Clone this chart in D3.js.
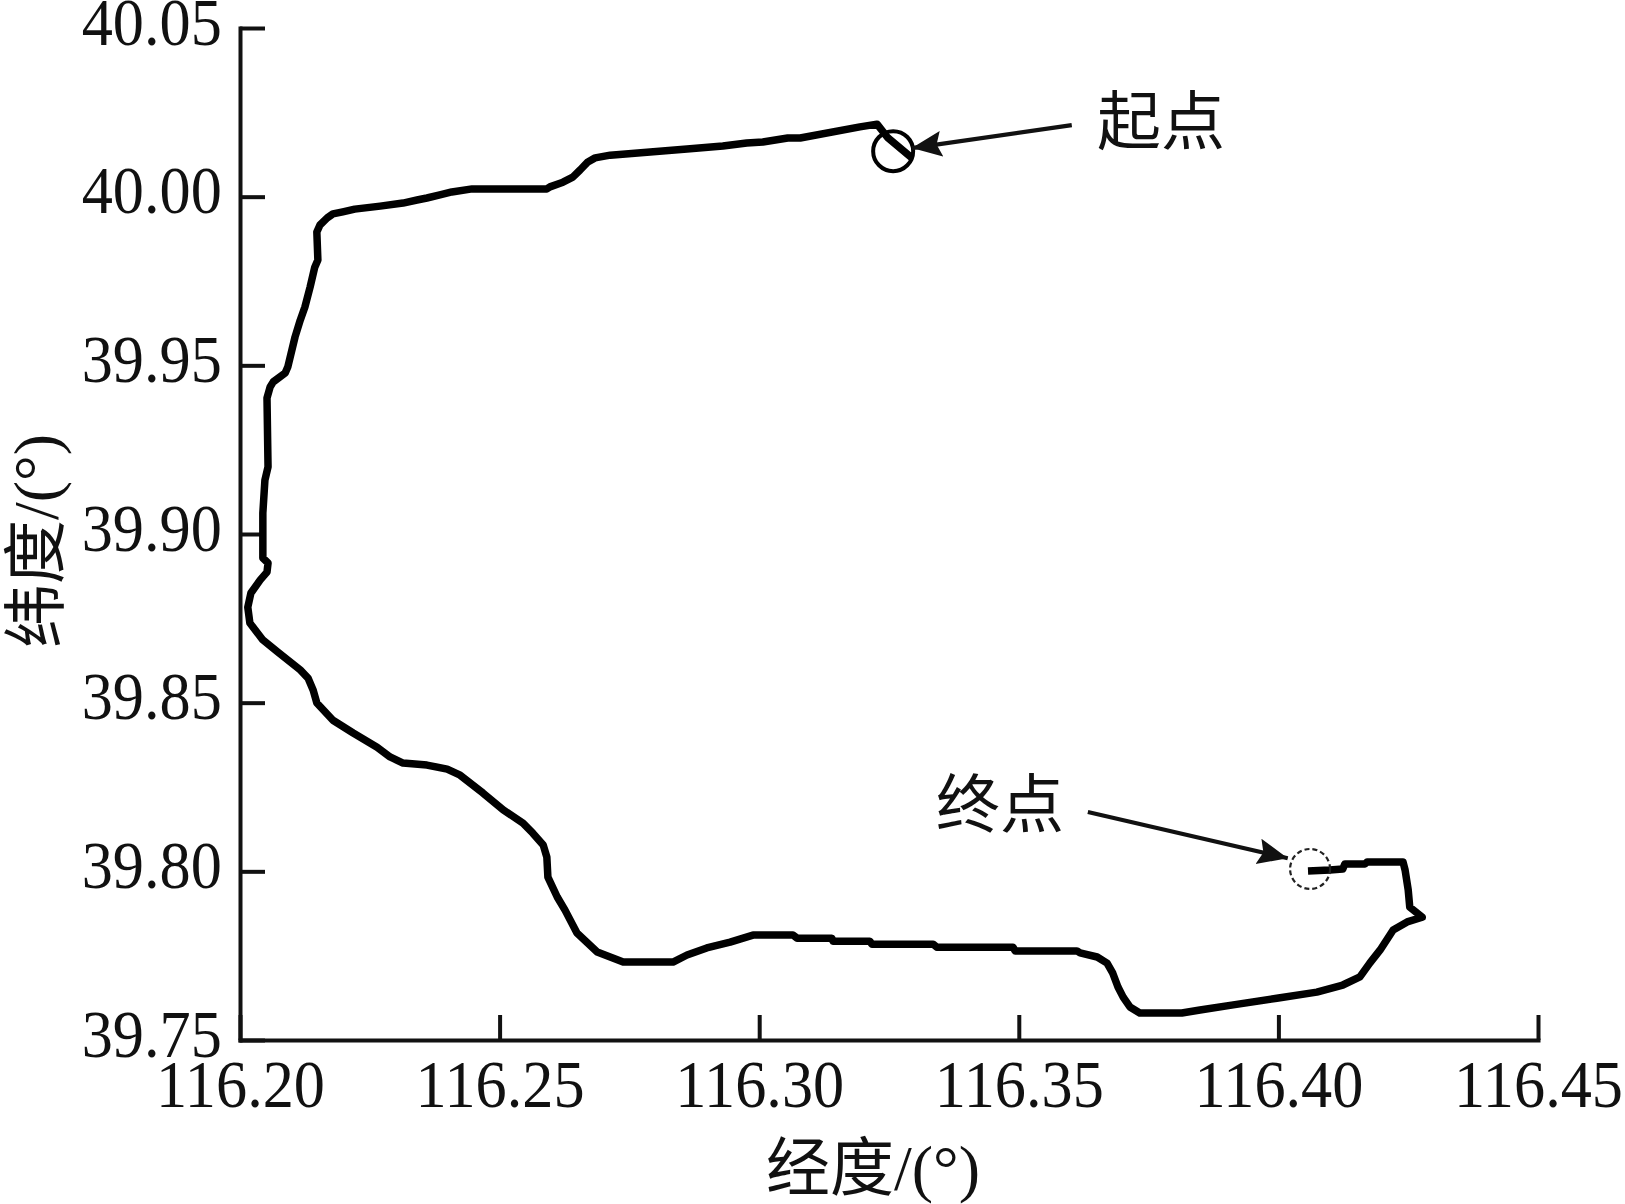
<!DOCTYPE html>
<html><head><meta charset="utf-8">
<script src="https://cdn.jsdelivr.net/npm/d3@7"></script>
<style>body{margin:0;background:#fff}</style>
</head><body>
<svg id="c" width="1625" height="1204"></svg>
<script>
const xTicks = [116.20, 116.25, 116.30, 116.35, 116.40, 116.45];
const yTicks = [39.75, 39.80, 39.85, 39.90, 39.95, 40.00, 40.05];
const xTitle = "经度/(°)";
const yTitle = "纬度/(°)";

const pathLon = [116.3294,116.3248,116.3227,116.3194,116.3079,116.3055,116.3007,116.2976,116.2930,116.2861,
116.2784,116.2713,116.2684,116.2670,116.2655,116.2641,116.2622,116.2597,116.2591,116.2447,
116.2408,116.2385,116.2360,116.2341,116.2314,116.2270,116.2221,116.2198,116.2179,116.2168,
116.2154,116.2148,116.2150,116.2144,116.2135,116.2125,116.2116,116.2106,116.2092,116.2087,
116.2064,116.2058,116.2052,116.2054,116.2048,116.2044,116.2044,116.2054,116.2052,116.2039,
116.2021,116.2015,116.2019,116.2044,116.2073,116.2116,116.2131,116.2141,116.2148,116.2179,
116.2218,116.2264,116.2289,116.2314,116.2360,116.2399,116.2424,116.2468,116.2507,116.2545,
116.2564,116.2584,116.2591,116.2593,116.2611,116.2626,116.2649,116.2688,116.2718,116.2738,
116.2834,116.2861,116.2899,116.2944,116.2988,116.3065,116.3073,116.3140,116.3142,116.3213,
116.3217,116.3335,116.3342,116.3489,116.3493,116.3612,116.3618,116.3651,116.3670,116.3681,
116.3691,116.3701,116.3714,116.3733,116.3814,116.3849,116.3913,116.3997,116.4074,116.4124,
116.4157,116.4176,116.4196,116.4221,116.4248,116.4277,116.4253,116.4250,116.4244,116.4240,
116.4171,116.4167,116.4128,116.4124,116.4099,116.4057];
const pathLat = [40.0115,40.0174,40.0215,40.0207,40.0174,40.0174,40.0162,40.0159,40.0150,40.0141,
40.0132,40.0123,40.0115,40.0103,40.0079,40.0058,40.0043,40.0029,40.0023,40.0023,
40.0014,40.0005,39.9996,39.9990,39.9981,39.9972,39.9963,39.9955,39.9949,39.9937,
39.9916,39.9895,39.9812,39.9791,39.9732,39.9673,39.9634,39.9584,39.9495,39.9477,
39.9451,39.9436,39.9403,39.9199,39.9160,39.9062,39.8929,39.8914,39.8887,39.8864,
39.8825,39.8783,39.8736,39.8686,39.8650,39.8597,39.8573,39.8537,39.8499,39.8448,
39.8410,39.8368,39.8339,39.8321,39.8315,39.8303,39.8285,39.8232,39.8182,39.8143,
39.8113,39.8078,39.8042,39.7983,39.7924,39.7885,39.7817,39.7761,39.7743,39.7731,
39.7731,39.7752,39.7773,39.7790,39.7811,39.7811,39.7802,39.7802,39.7793,39.7793,
39.7784,39.7784,39.7775,39.7775,39.7764,39.7764,39.7758,39.7746,39.7728,39.7698,
39.7657,39.7627,39.7598,39.7580,39.7580,39.7589,39.7604,39.7624,39.7642,39.7663,
39.7687,39.7728,39.7767,39.7826,39.7850,39.7864,39.7894,39.7945,39.8004,39.8028,
39.8028,39.8022,39.8022,39.8007,39.8004,39.8001];

const markerNames = ["起点", "终点"];
const markerLon = [116.3258, 116.4061];
const markerLat = [40.0135, 39.8007];
const labelLon = [116.3774, 116.3464];
const labelLat = [40.0221, 39.8196];
const arrowFromLon = [116.3602, 116.3633];
const arrowFromLat = [40.0212, 39.8176];
const arrowToLon = [116.3294, 116.4018];
const arrowToLat = [40.0144, 39.8039];

const svg = d3.select("#c");
const x = d3.scaleLinear().domain([116.20, 116.45]).range([240, 1538]);
const y = d3.scaleLinear().domain([39.75, 40.05]).range([1040, 28]);

const serif = "'Liberation Serif','Times New Roman','Noto Sans CJK SC',serif";
const cjk = "'Liberation Serif','Noto Sans CJK SC',serif";

// axes
const gx = svg.append("g").attr("transform", `translate(0,${y(39.75)})`)
  .call(d3.axisBottom(x).tickValues(xTicks).tickSizeInner(-25).tickSizeOuter(0).tickFormat(d3.format(".2f")));
const gy = svg.append("g").attr("transform", `translate(${x(116.20)},0)`)
  .call(d3.axisLeft(y).tickValues(yTicks).tickSizeInner(-25).tickSizeOuter(0).tickFormat(d3.format(".2f")));

[gx, gy].forEach(g => {
  g.select(".domain").attr("stroke", "#111").attr("stroke-width", 4).attr("stroke-linecap", "square");
  g.selectAll(".tick line").attr("stroke", "#111").attr("stroke-width", 4);
  g.selectAll(".tick text").attr("font-family", serif).attr("font-size", 67).attr("fill", "#111");
});
gx.selectAll(".tick text").attr("y", 67).attr("dy", 0).attr("transform", "scale(0.93,1)");
gy.selectAll(".tick text").attr("x", -19.5).attr("dy", "0.24em").attr("transform", "scale(0.93,1)");

// axis titles
svg.append("text").attr("x", 873).attr("y", 1190).attr("text-anchor", "middle")
  .attr("font-family", cjk).attr("font-size", 64).attr("fill", "#111").text(xTitle);
svg.append("text").attr("transform", `translate(58,541) rotate(-90)`).attr("text-anchor", "middle")
  .attr("font-family", cjk).attr("font-size", 64).attr("fill", "#111").text(yTitle);

// trajectory
const pts = pathLon.map((d, i) => [d, pathLat[i]]);
svg.append("path").datum(pts)
  .attr("d", d3.line().x(d => x(d[0])).y(d => y(d[1])))
  .attr("fill", "none").attr("stroke", "#000").attr("stroke-width", 7.5)
  .attr("stroke-linejoin", "round").attr("stroke-linecap", "butt");

// start/end circles
svg.append("circle").attr("cx", x(markerLon[0])).attr("cy", y(markerLat[0])).attr("r", 20)
  .attr("fill", "none").attr("stroke", "#000").attr("stroke-width", 4);
svg.append("circle").attr("cx", x(markerLon[1])).attr("cy", y(markerLat[1])).attr("r", 20)
  .attr("fill", "none").attr("stroke", "#222").attr("stroke-width", 2.2).attr("stroke-dasharray", "5,3");

// arrows
const defs = svg.append("defs");
defs.append("marker").attr("id", "ah").attr("markerUnits", "userSpaceOnUse")
  .attr("markerWidth", 36).attr("markerHeight", 32).attr("refX", 30).attr("refY", 13)
  .attr("orient", "auto")
  .append("path").attr("d", "M0,0 L30,13 L0,26 L5,13 Z").attr("fill", "#111");
markerNames.forEach((n, i) => {
  svg.append("line")
    .attr("x1", x(arrowFromLon[i])).attr("y1", y(arrowFromLat[i]))
    .attr("x2", x(arrowToLon[i])).attr("y2", y(arrowToLat[i]))
    .attr("stroke", "#111").attr("stroke-width", 4.2).attr("marker-end", "url(#ah)");
  svg.append("text").attr("x", x(labelLon[i])).attr("y", y(labelLat[i]))
    .attr("text-anchor", "middle").attr("dominant-baseline", "central")
    .attr("font-family", cjk).attr("font-size", 64).attr("fill", "#111").text(n);
});
</script>
</body></html>
